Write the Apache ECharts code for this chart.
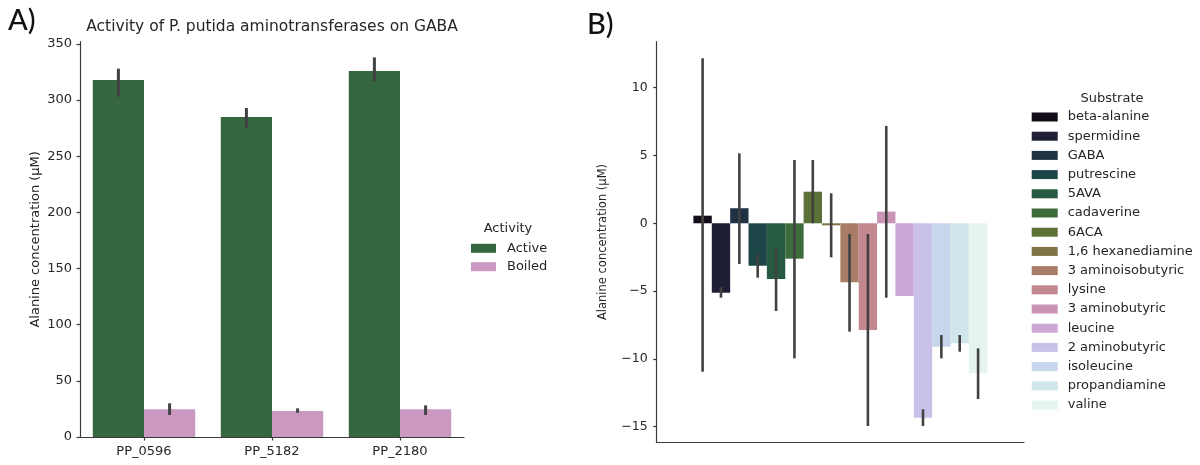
<!DOCTYPE html>
<html>
<head>
<meta charset="utf-8">
<script src="https://cdn.jsdelivr.net/npm/echarts@6/dist/echarts.min.js"></script>
<style>
html,body{margin:0;padding:0;background:#fff;}
#chart{width:1200px;height:465px;}
</style>
</head>
<body>
<div id="chart"></div>
<script>
// ---------- Panel A data ----------
const categoriesA = ['PP_0596', 'PP_5182', 'PP_2180'];
const activityNames = ['Active', 'Boiled'];
const activeMean = [318, 285, 326];
const activeLow  = [303, 275, 317];
const activeHigh = [328, 293, 338];
const boiledMean = [24.6, 23.1, 24.6];
const boiledLow  = [19.6, 21.6, 19.6];
const boiledHigh = [30.0, 25.5, 28.2];
const ticksA = [0, 50, 100, 150, 200, 250, 300, 350];

// ---------- Panel B data ----------
const substrates = ['beta-alanine', 'spermidine', 'GABA', 'putrescine', '5AVA', 'cadaverine', '6ACA',
  '1,6 hexanediamine', '3 aminoisobutyric', 'lysine', '3 aminobutyric', 'leucine', '2 aminobutyric',
  'isoleucine', 'propandiamine', 'valine'];
const substrateMean = [0.56, -5.12, 1.11, -3.13, -4.11, -2.61, 2.33, -0.15, -4.35, -7.87, 0.86, -5.36, -14.34, -9.10, -8.85, -11.06];
const substrateLow  = [-10.94, -5.49, -3.00, -4.01, -6.47, -9.96, 0.00, -2.51, -7.99, -14.95, -5.49, null, -14.95, -9.96, -9.47, -12.96];
const substrateHigh = [12.17, -4.72, 5.16, -2.26, -1.80, 4.67, 4.67, 2.21, -0.79, -0.79, 7.18, null, -13.72, -8.24, -8.24, -9.22];
const ticksB = [-15, -10, -5, 0, 5, 10];

// ---------- palette (matplotlib cubehelix, seaborn saturation .75) ----------
function cubehelix(x) {
  const a = x * (1 - x) / 2;
  const phi = 2 * Math.PI * (0.5 / 3 - 1.5 * x);
  const c = (p0, p1) => Math.min(1, Math.max(0, x + a * (p0 * Math.cos(phi) + p1 * Math.sin(phi))));
  return [c(-0.14861, 1.78277), c(-0.29227, -0.90649), c(1.97294, 0)];
}
function desat(rgb, k) {
  const mx = Math.max(...rgb), mn = Math.min(...rgb), l = (mx + mn) / 2;
  return rgb.map(v => l + (v - l) * k);
}
function hex(rgb) {
  return '#' + rgb.map(v => Math.round(v * 255).toString(16).padStart(2, '0')).join('');
}
const colorsA = [1 / 3, 2 / 3].map(x => hex(desat(cubehelix(x), 0.75)));
const colorsB = substrates.map((_, i) => hex(desat(cubehelix((i + 1) / 17), 0.75)));

const FONT = 'DejaVu Sans';
const TXT = '#262626';
const AXC = '#3a3a3a';
const ERR = '#424242';

const chart = echarts.init(document.getElementById('chart'), null, {renderer: 'canvas'});

const series = [];
// Panel A bars
series.push({
  name: activityNames[0], type: 'bar', xAxisIndex: 0, yAxisIndex: 0,
  data: activeMean, itemStyle: {color: colorsA[0]},
  barGap: '0%', barCategoryGap: '20%', animation: false
});
series.push({
  name: activityNames[1], type: 'bar', xAxisIndex: 0, yAxisIndex: 0,
  data: boiledMean, itemStyle: {color: colorsA[1]},
  barGap: '0%', barCategoryGap: '20%', animation: false
});
// Panel A error bars
const errA = [];
categoriesA.forEach((c, i) => {
  errA.push([i, activeLow[i], activeHigh[i], 0]);
  errA.push([i, boiledLow[i], boiledHigh[i], 1]);
});
series.push({
  type: 'custom', xAxisIndex: 0, yAxisIndex: 0, z: 5, animation: false,
  data: errA,
  encode: {x: 0, y: [1, 2]},
  renderItem: function (params, api) {
    const cat = api.value(0);
    const p1 = api.coord([cat, api.value(2)]);
    const p2 = api.coord([cat, api.value(1)]);
    const band = api.size([1, 0])[0];
    const off = (api.value(3) === 0 ? -0.2 : 0.2) * band;
    return {
      type: 'line',
      shape: {x1: p1[0] + off, y1: p1[1], x2: p2[0] + off, y2: p2[1]},
      style: {stroke: ERR, lineWidth: 3}
    };
  }
});
// Panel B bars
substrates.forEach((s, i) => {
  series.push({
    name: s, type: 'bar', xAxisIndex: 1, yAxisIndex: 1,
    data: [substrateMean[i]], itemStyle: {color: colorsB[i]},
    barGap: '0%', barCategoryGap: '20%', animation: false
  });
});
// Panel B error bars
const errB = [];
substrates.forEach((s, i) => {
  if (substrateLow[i] !== null && substrateHigh[i] !== null) {
    errB.push([0, substrateLow[i], substrateHigh[i], i]);
  }
});
series.push({
  type: 'custom', xAxisIndex: 1, yAxisIndex: 1, z: 5, animation: false,
  data: errB,
  encode: {x: 0, y: [1, 2]},
  renderItem: function (params, api) {
    const p1 = api.coord([0, api.value(2)]);
    const p2 = api.coord([0, api.value(1)]);
    const band = api.size([1, 0])[0];
    const bw = band * 0.8 / substrates.length;
    const off = (api.value(3) - (substrates.length - 1) / 2) * bw;
    return {
      type: 'line',
      shape: {x1: p1[0] + off, y1: p1[1], x2: p2[0] + off, y2: p2[1]},
      style: {stroke: ERR, lineWidth: 2.6}
    };
  }
});

const option = {
  backgroundColor: '#ffffff',
  animation: false,
  textStyle: {fontFamily: FONT},
  grid: [
    {left: 80, top: 41.7, width: 384, height: 395.3, outerBoundsMode: 'none', containLabel: false},
    {left: 656.7, top: 41.7, width: 367.3, height: 400.6, outerBoundsMode: 'none', containLabel: false}
  ],
  xAxis: [
    {
      type: 'category', gridIndex: 0, data: categoriesA,
      axisLine: {show: true, onZero: false, lineStyle: {color: AXC, width: 1.2}},
      axisTick: {show: true, alignWithLabel: true, length: 3.5, lineStyle: {color: AXC, width: 1.2}},
      axisLabel: {color: TXT, fontSize: 13, fontFamily: FONT, margin: 8},
      splitLine: {show: false}
    },
    {
      type: 'category', gridIndex: 1, data: [''],
      axisLine: {show: true, onZero: false, lineStyle: {color: AXC, width: 1.2}},
      axisTick: {show: false},
      axisLabel: {show: false},
      splitLine: {show: false}
    }
  ],
  yAxis: [
    {
      type: 'value', gridIndex: 0, min: 0, max: 352,
      name: 'Alanine concentration (µM)', nameLocation: 'middle', nameGap: 38,
      nameTextStyle: {color: TXT, fontSize: 13, fontFamily: FONT},
      axisLine: {show: true, lineStyle: {color: AXC, width: 1.2}},
      axisTick: {show: true, length: 3.5, customValues: ticksA, lineStyle: {color: AXC, width: 1.2}},
      axisLabel: {color: TXT, fontSize: 13, fontFamily: FONT, margin: 8, customValues: ticksA},
      splitLine: {show: false}
    },
    {
      type: 'value', gridIndex: 1, min: -16.15, max: 13.39,
      name: 'Alanine concentration (µM)', nameLocation: 'middle', nameGap: 48,
      nameTextStyle: {color: TXT, fontSize: 11.5, fontFamily: FONT},
      axisLine: {show: true, lineStyle: {color: AXC, width: 1.2}},
      axisTick: {show: true, length: 3.5, customValues: ticksB, lineStyle: {color: AXC, width: 1.2}},
      axisLabel: {
        color: TXT, fontSize: 12.5, fontFamily: FONT, margin: 9, customValues: ticksB,
        formatter: v => (v < 0 ? '\u2212' + Math.abs(v) : String(v))
      },
      splitLine: {show: false}
    }
  ],
  legend: [
    {
      data: activityNames, orient: 'vertical', left: 471, top: 241.8, padding: 0,
      itemWidth: 25, itemHeight: 9, itemGap: 5.4, icon: 'rect',
      textStyle: {color: TXT, fontSize: 13, fontFamily: FONT, lineHeight: 13, padding: [0, 0, 0, 6]},
      selectedMode: false
    },
    {
      data: substrates, orient: 'vertical', left: 1031.7, top: 110.5, padding: 0,
      itemWidth: 26, itemHeight: 9, itemGap: 6.2, icon: 'rect',
      textStyle: {color: TXT, fontSize: 13, fontFamily: FONT, lineHeight: 13, padding: [0, 0, 0, 5]},
      selectedMode: false
    }
  ],
  graphic: [
    {type: 'text', x: 8, y: 21, style: {text: 'A)', font: '500 29px Lato', fill: '#111', textVerticalAlign: 'middle'}},
    {type: 'text', x: 587, y: 25, style: {text: 'B)', font: '500 29px Lato', fill: '#111', textVerticalAlign: 'middle'}},
    {type: 'text', x: 272, y: 27, style: {text: 'Activity of P. putida aminotransferases on GABA', font: '15.5px "DejaVu Sans"', fill: TXT, textAlign: 'center', textVerticalAlign: 'middle'}},
    {type: 'text', x: 508, y: 229, style: {text: 'Activity', font: '13px "DejaVu Sans"', fill: TXT, textAlign: 'center', textVerticalAlign: 'middle'}},
    {type: 'text', x: 1112, y: 98.3, style: {text: 'Substrate', font: '13px "DejaVu Sans"', fill: TXT, textAlign: 'center', textVerticalAlign: 'middle'}}
  ],
  series: series
};
chart.setOption(option);
</script>
</body>
</html>
